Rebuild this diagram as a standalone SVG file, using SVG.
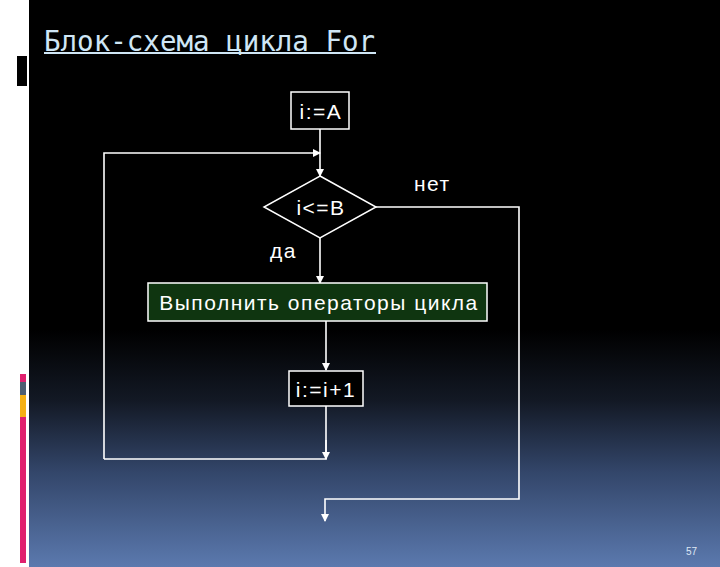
<svg xmlns="http://www.w3.org/2000/svg" width="720" height="567" viewBox="0 0 720 567">
<defs>
<linearGradient id="bg" x1="0" y1="330" x2="0" y2="567" gradientUnits="userSpaceOnUse">
<stop offset="0" stop-color="#000000"/>
<stop offset="0.3" stop-color="#131925"/>
<stop offset="0.6" stop-color="#33466a"/>
<stop offset="1" stop-color="#5b79ae"/>
</linearGradient>
<marker id="ah" markerWidth="8" markerHeight="8" refX="7" refY="4" orient="auto" markerUnits="userSpaceOnUse">
<path d="M0,0 L8,4 L0,8 z" fill="#ffffff"/>
</marker>
</defs>
<style>
.ln{stroke:#ffffff;stroke-width:1.6;fill:none}
.lb{font-family:"Liberation Sans",Arial,sans-serif;font-size:21px;letter-spacing:1.5px;fill:#ffffff}
.box{fill:#000000;stroke:#ffffff;stroke-width:1.5}
</style>
<rect x="0" y="0" width="720" height="567" fill="#ffffff"/>
<rect x="29" y="0" width="691" height="567" fill="url(#bg)"/>
<rect x="17" y="56" width="10" height="30" fill="#000000"/>
<rect x="20" y="374" width="6" height="8" fill="#e0206e"/>
<rect x="20" y="382" width="6" height="13" fill="#4d5e72"/>
<rect x="20" y="395" width="6" height="22" fill="#f5b014"/>
<rect x="20" y="417" width="6" height="146" fill="#e0206e"/>
<text x="44" y="51" font-family="'DejaVu Sans Mono',monospace" font-size="27.5" fill="#cfe6f5">Блок-схема цикла For</text>
<rect x="44" y="52" width="332" height="2" fill="#cfe6f5"/>
<g id="connectors">
<path class="ln" d="M320,129 V176" marker-end="url(#ah)"/>
<path class="ln" d="M104,459 V153 H320" marker-end="url(#ah)"/>
<path class="ln" d="M320,238 V283" marker-end="url(#ah)"/>
<path class="ln" d="M326,321 V370" marker-end="url(#ah)"/>
<path class="ln" d="M326,406 V459 H104"/>
<path class="ln" d="M326,440 V459" marker-end="url(#ah)"/>
<path class="ln" d="M376,207 H519 V499 H325 V521" marker-end="url(#ah)"/>
</g>
<g id="init">
<rect class="box" x="291" y="92" width="58" height="37"/>
<text class="lb" x="321" y="119" text-anchor="middle">i:=A</text>
</g>
<g id="cond">
<path d="M320,176 L376,207 L320,238 L264,207 z" fill="#000000" stroke="#ffffff" stroke-width="1.5"/>
<text class="lb" x="321" y="215" text-anchor="middle">i&lt;=B</text>
</g>
<text class="lb" x="414" y="191">нет</text>
<text class="lb" x="270" y="258">да</text>
<g id="body">
<rect x="148" y="283" width="339" height="38" fill="#0f3510" stroke="#ffffff" stroke-width="1.5"/>
<text class="lb" x="319" y="310" text-anchor="middle" fill="#e6f2e6">Выполнить операторы цикла</text>
</g>
<g id="incr">
<rect class="box" x="289" y="371" width="74" height="35"/>
<text class="lb" x="326" y="397" text-anchor="middle">i:=i+1</text>
</g>
<text x="686" y="555" font-family="'Liberation Sans',Arial,sans-serif" font-size="10" fill="#dfe8f5">57</text>
</svg>
